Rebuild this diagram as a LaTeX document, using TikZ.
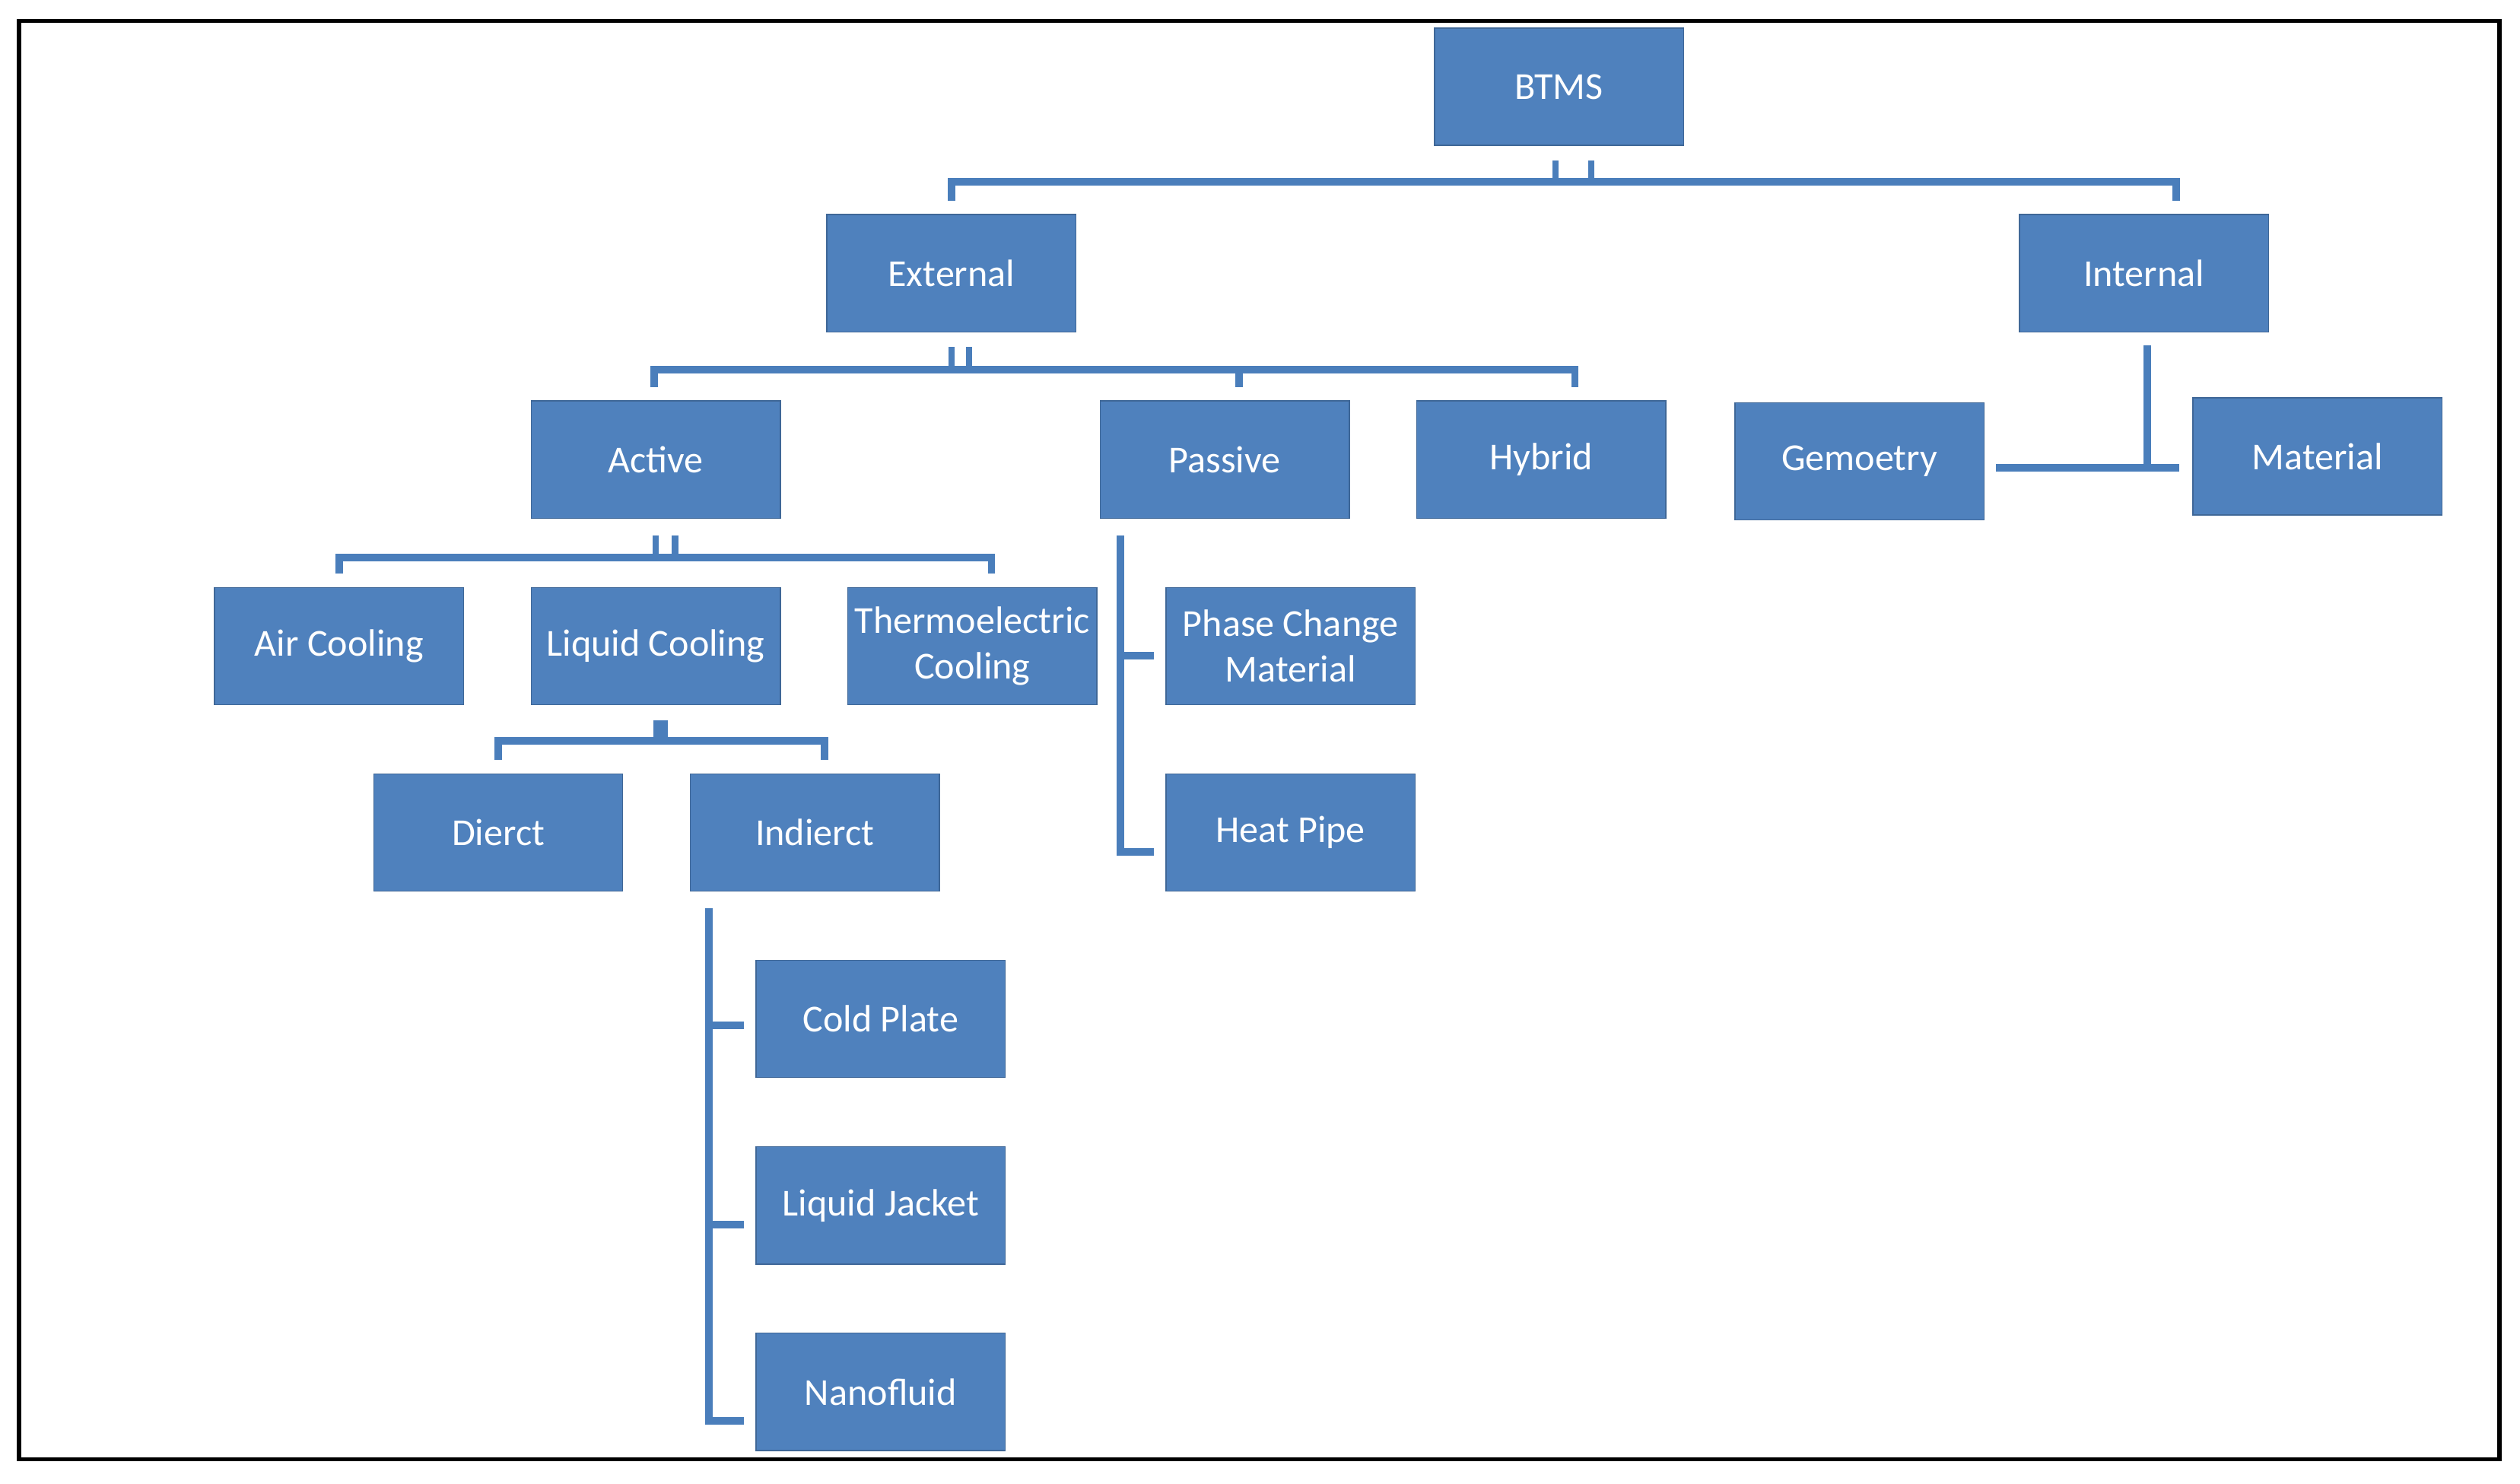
\documentclass[tikz,border=0pt]{standalone}
\usepackage{fontspec}
\setmainfont{Carlito}
\definecolor{nodeblue}{HTML}{4F81BD}
\definecolor{linkblue}{HTML}{4A7EBB}
\begin{document}
\begin{tikzpicture}[x=0.02cm,y=-0.02cm,
  box/.style={fill=nodeblue,draw=nodeblue!80!black,line width=0.4pt,minimum width=3.1cm,minimum height=1.46cm,inner sep=1pt,text=white,font=\fontsize{13.5}{15}\selectfont,align=center},
  link/.style={draw=linkblue,line width=2.6pt},
  stub/.style={draw=linkblue,line width=2.2pt}]
\useasboundingbox (0,0) rectangle (1568,923);
\draw[line width=1.6pt] (12,13) rectangle (1555,908);
\node[box] (btms) at (970,54) {BTMS};
\node[box] (ext) at (592,170) {External};
\node[box] (int) at (1334,170) {Internal};
\node[box] (act) at (408,286) {Active};
\node[box] (pas) at (762,286) {Passive};
\node[box] (hyb) at (959,286) {Hybrid};
\node[box] (geo) at (1157,287) {Gemoetry};
\node[box] (mat) at (1442,284) {Material};
\node[box] (air) at (211,402) {Air Cooling};
\node[box] (liq) at (408,402) {Liquid Cooling};
\node[box] (the) at (605,402) {Thermoelectric\\[1pt]Cooling};
\node[box] (pcm) at (803,402) {Phase Change\\[1pt]Material};
\node[box] (dir) at (310,518) {Dierct};
\node[box] (ind) at (507,518) {Indierct};
\node[box] (hp) at (803,518) {Heat Pipe};
\node[box] (cp) at (548,634) {Cold Plate};
\node[box] (lj) at (548,750) {Liquid Jacket};
\node[box] (nf) at (548,866) {Nanofluid};
% BTMS
\draw[link] (592,125) -- (592,113) -- (1354,113) -- (1354,125);
\draw[stub] (968,100) -- (968,113) (990,100) -- (990,113);
% Internal
\draw[link] (1336,215) -- (1336,290);
\draw[link] (1242,291) -- (1356,291);
% External
\draw[link] (407,241) -- (407,230) -- (980,230) -- (980,241);
\draw[link] (771,230) -- (771,241);
\draw[stub] (592,216) -- (592,230) (603,216) -- (603,230);
% Active
\draw[link] (211,357) -- (211,347) -- (617,347) -- (617,357);
\draw[stub] (408,333) -- (408,347) (420,333) -- (420,347);
% Liquid cooling
\draw[link] (310,473) -- (310,461) -- (513,461) -- (513,473);
\draw[line width=5pt,draw=linkblue] (411,448) -- (411,461);
% Passive
\draw[link] (718,530) -- (697,530) -- (697,333);
\draw[link] (697,408) -- (718,408);
% Indirect
\draw[link] (463,884) -- (441,884) -- (441,565);
\draw[link] (441,638) -- (463,638) (441,762) -- (463,762);
\end{tikzpicture}
\end{document}
